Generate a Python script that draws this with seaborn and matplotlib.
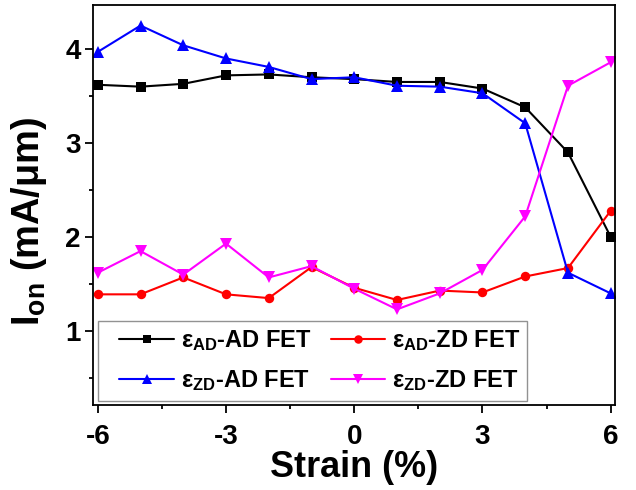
import numpy as np
import pandas as pd
import matplotlib
matplotlib.use("Agg")
import matplotlib.pyplot as plt
from matplotlib.ticker import MultipleLocator
from matplotlib.lines import Line2D
from matplotlib.legend_handler import HandlerLine2D
import seaborn as sns

strain = [-6, -5, -4, -3, -2, -1, 0, 1, 2, 3, 4, 5, 6]
ead_ad = [3.62, 3.60, 3.63, 3.72, 3.73, 3.70, 3.68, 3.65, 3.65, 3.58, 3.38, 2.90, 2.00]
ead_zd = [1.39, 1.39, 1.57, 1.39, 1.35, 1.68, 1.46, 1.33, 1.43, 1.41, 1.58, 1.67, 2.28]
ezd_ad = [3.97, 4.25, 4.04, 3.90, 3.81, 3.68, 3.70, 3.61, 3.60, 3.53, 3.21, 1.62, 1.40]
ezd_zd = [1.62, 1.85, 1.60, 1.93, 1.57, 1.69, 1.45, 1.23, 1.40, 1.65, 2.22, 3.61, 3.86]

labels = [r"ε$_{\mathrm{AD}}$-AD FET", r"ε$_{\mathrm{AD}}$-ZD FET",
          r"ε$_{\mathrm{ZD}}$-AD FET", r"ε$_{\mathrm{ZD}}$-ZD FET"]
series = [ead_ad, ead_zd, ezd_ad, ezd_zd]
colors = ["#000000", "#ff0000", "#0000ff", "#ff00ff"]
marks = ["s", "o", "^", "v"]

rows = []
for lab, vals in zip(labels, series):
    for x, v in zip(strain, vals):
        rows.append({"Strain": x, "Ion": v, "series": lab})
df = pd.DataFrame(rows)

sns.set_style("ticks", {"text.color": "black", "xtick.color": "black",
                        "ytick.color": "black", "axes.labelcolor": "black",
                        "axes.edgecolor": "black"})
plt.rcParams["font.family"] = ["Liberation Sans", "DejaVu Sans"]
plt.rcParams["font.weight"] = "bold"
plt.rcParams["axes.unicode_minus"] = False
plt.rcParams["mathtext.fontset"] = "custom"
plt.rcParams["mathtext.rm"] = "Liberation Sans:bold"
plt.rcParams["mathtext.bf"] = "Liberation Sans:bold"
plt.rcParams["mathtext.it"] = "Liberation Sans:bold"

fig = plt.figure(figsize=(6.36, 4.9), dpi=100)
ax = fig.add_axes([0.147, 0.173, 0.820, 0.817])

sns.lineplot(data=df, x="Strain", y="Ion", hue="series", style="series",
             hue_order=labels, style_order=labels,
             palette=dict(zip(labels, colors)),
             markers=dict(zip(labels, marks)), dashes=False,
             markersize=7, markeredgewidth=0, linewidth=1.5, ax=ax)

msize = {"s": 6.8, "o": 6.8, "^": 8.5, "v": 8.5}
for ln in ax.lines:
    m = ln.get_marker()
    if m in msize:
        ln.set_markersize(msize[m])

ax.set_xlim(-6.1, 6.1)
ax.set_ylim(0.21, 4.47)
ax.xaxis.set_major_locator(MultipleLocator(3))
ax.xaxis.set_minor_locator(MultipleLocator(1.5))
ax.yaxis.set_major_locator(MultipleLocator(1))
ax.yaxis.set_minor_locator(MultipleLocator(0.5))
ax.tick_params(which="major", direction="out", length=5.5, width=1.3, labelsize=20)
ax.tick_params(axis="x", which="major", pad=8)
ax.tick_params(which="minor", direction="out", length=3, width=1.3)
for t in ax.get_xticklabels() + ax.get_yticklabels():
    t.set_fontweight("bold")
for s in ax.spines.values():
    s.set_visible(True)
    s.set_linewidth(1.3)

xl = ax.set_xlabel("Strain (%)", fontsize=25, fontweight="bold", labelpad=0)
yl = ax.set_ylabel(r"I$_{\mathrm{on}}$ (mA/μm)", fontsize=25, fontweight="bold")
ax.yaxis.set_label_coords(-0.085, 0.46)

# fit label sizes to the reference extents (pixels)
fig.canvas.draw()
r = fig.canvas.get_renderer()
hy = yl.get_window_extent(r).height
yl.set_fontsize(25 * 210.0 / hy)
wx = xl.get_window_extent(r).width
xl.set_fontsize(25 * 168.0 / wx)

h, l = ax.get_legend_handles_labels()
for hd in h:
    m = hd.get_marker()
    if m in msize:
        hd.set_markersize(msize[m] * 0.9)
order = [0, 2, 1, 3]
leg = ax.legend([h[i] for i in order], [l[i] for i in order],
                loc="lower left", ncol=2, fontsize=17, frameon=True,
                fancybox=False, edgecolor="#777777", handlelength=2.9,
                columnspacing=0.2, handletextpad=0.3, borderaxespad=0.2,
                labelspacing=0.65, borderpad=0.3,
                handler_map={Line2D: HandlerLine2D(xpad=0.6)})
leg.get_frame().set_linewidth(1.0)
for t in leg.get_texts():
    t.set_fontweight("bold")

fig.savefig("out.png", dpi=100)
